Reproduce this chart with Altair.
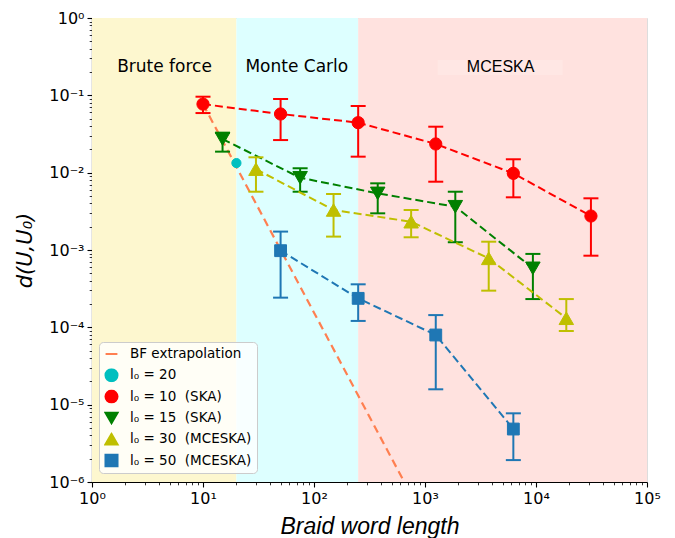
import altair as alt
import pandas as pd

# ---------------- data ----------------
series_names = [
    "BF extrapolation",
    "l\u2080 = 20",
    "l\u2080 = 10\u00a0\u00a0(SKA)",
    "l\u2080 = 15\u00a0\u00a0(SKA)",
    "l\u2080 = 30\u00a0\u00a0(MCESKA)",
    "l\u2080 = 50\u00a0\u00a0(MCESKA)",
]
series_colors = ["#ff7f50", "#00bfbf", "#ff0000", "#008000", "#bfbf00", "#1f77b4"]
series_shapes = ["stroke", "circle", "circle", "triangle-down", "triangle-up", "square"]
series_sizes = [200, 85, 150, 210, 210, 140]

bf_x = [10, 650]
bf_y = [0.077, 1.0e-6]

c20_x = [20]
c20_y = [0.0133]

r10_x = [10, 50, 250, 1250, 6250, 31250]
r10_y = [0.077, 0.0574, 0.0443, 0.0235, 0.0098, 0.00275]
r10_lo = [0.059, 0.0264, 0.0161, 0.00764, 0.0048, 0.000844]
r10_hi = [0.096, 0.0897, 0.0728, 0.0393, 0.0149, 0.00466]

g15_x = [15, 75, 375, 1875, 9375]
g15_y = [0.0272, 0.0086, 0.0054, 0.00363, 0.00058]
g15_lo = [0.0187, 0.00567, 0.00298, 0.00126, 0.000232]
g15_hi = [0.0329, 0.0114, 0.00728, 0.00567, 0.00089]

y30_x = [30, 150, 750, 3750, 18750]
y30_y = [0.0111, 0.00329, 0.00232, 0.00078, 0.000131]
y30_lo = [0.00567, 0.00149, 0.00146, 0.000298, 0.0000896]
y30_hi = [0.0158, 0.0053, 0.00329, 0.00128, 0.000232]

b50_x = [50, 250, 1250, 6250]
b50_y = [0.00098, 0.000237, 0.0000796, 0.00000484]
b50_lo = [0.000242, 0.000121, 0.0000158, 0.00000192]
b50_hi = [0.00173, 0.00036, 0.000144, 0.00000773]

region_names = ["Brute force", "Monte Carlo", "MCESKA"]
region_edges = [1, 20, 250, 100000]
region_colors = ["#fdf7cf", "#ddffff", "#ffe2df"]
region_label_x = [4.5, 70, 4800]
region_label_y = [0.232, 0.232, 0.232]
region_label_fonts = ["DejaVu Sans", "DejaVu Sans", "Liberation Sans"]
region_label_sizes = [17, 17, 16]

mceska_box_x = [1300, 17400]
mceska_box_y = [0.183, 0.286]
mceska_box_color = "#ffe7e4"

x_major = [1, 10, 100, 1000, 10000, 100000]
x_major_labels = ["10\u2070", "10\u00b9", "10\u00b2", "10\u00b3", "10\u2074", "10\u2075"]
y_major = [1e-6, 1e-5, 1e-4, 1e-3, 1e-2, 1e-1, 1]
y_major_labels = ["10\u207b\u2076", "10\u207b\u2075", "10\u207b\u2074", "10\u207b\u00b3",
                  "10\u207b\u00b2", "10\u207b\u00b9", "10\u2070"]

# ---------------- tables ----------------
series_data = [
    (c20_x, c20_y, c20_y, c20_y),
    (r10_x, r10_y, r10_lo, r10_hi),
    (g15_x, g15_y, g15_lo, g15_hi),
    (y30_x, y30_y, y30_lo, y30_hi),
    (b50_x, b50_y, b50_lo, b50_hi),
]
rows = []
for k, (xs, ys, los, his) in enumerate(series_data, start=1):
    for x, y, lo, hi in zip(xs, ys, los, his):
        rows.append(dict(series=series_names[k], L=x, d=y, lo=lo, hi=hi, sz=series_sizes[k]))
pts = pd.DataFrame(rows)
bf = pd.DataFrame(dict(series=series_names[0], L=bf_x, d=bf_y))

labels = pd.DataFrame(dict(region=region_names, x=region_label_x, y=region_label_y))
box = pd.DataFrame(dict(x0=[mceska_box_x[0]], x1=[mceska_box_x[1]],
                        y0=[mceska_box_y[0]], y1=[mceska_box_y[1]]))

# ---------------- scales / axes ----------------
xscale = alt.Scale(type="log", domain=[1, 100000], nice=False)
yscale = alt.Scale(type="log", domain=[1e-6, 1], nice=False)

x_minor = [m * v for v in x_major[:-1] for m in range(2, 10)]
y_minor = [m * v for v in y_major[:-1] for m in range(2, 10)]


def js_list(vals):
    return "[" + ",".join(repr(float(v)) for v in vals) + "]"


def js_str_list(vals):
    return "[" + ",".join("'" + v + "'" for v in vals) + "]"


def major_axis(major, major_labels, title, orient, **kw):
    idx = "indexof(" + js_list(major) + ", datum.value)"
    return alt.Axis(
        orient=orient,
        values=major,
        labelExpr=idx + " >= 0 ? " + js_str_list(major_labels) + "[" + idx + "] : ''",
        tickSize=5,
        tickWidth=1.1,
        tickColor="black",
        domainColor="black",
        domainWidth=1.2,
        grid=False,
        labelFont="DejaVu Sans",
        labelFontSize=16,
        labelColor="black",
        labelOverlap=False,
        labelFlush=False,
        labelPadding=3,
        title=title,
        titleColor="black",
        titleFontWeight="normal",
        titleFontStyle="italic",
        **kw,
    )


def minor_axis(minor, orient):
    return alt.Axis(
        orient=orient,
        values=minor,
        labels=False,
        domain=False,
        grid=False,
        tickSize=2.8,
        tickWidth=0.8,
        tickColor="black",
        title=None,
    )


x_axis = major_axis(x_major, x_major_labels, "Braid word length", "bottom",
                    titleFont="Liberation Sans", titleFontSize=23, titlePadding=9)
y_axis = major_axis(y_major, y_major_labels, "d(U,U\u2080)", "left",
                    titleFont="DejaVu Sans", titleFontSize=21, titlePadding=13)

legend = alt.Legend(
    title=None,
    orient="none",
    legendX=7,
    legendY=324,
    fillColor="rgba(255,255,255,0.8)",
    strokeColor="#cccccc",
    cornerRadius=4,
    padding=5,
    clipHeight=14,
    rowPadding=7.3,
    labelOffset=11,
    labelFont="DejaVu Sans",
    labelFontSize=13.5,
    labelColor="black",
    symbolSize=140,
    symbolStrokeWidth=2.2,
    symbolOpacity=1,
    labelLimit=300,
)

X = lambda f, axis=None: alt.X(f, scale=xscale, axis=axis)
Y = lambda f, axis=None: alt.Y(f, scale=yscale, axis=axis)

# ---------------- layers ----------------
layers = []
for i in range(3):
    one = pd.DataFrame(dict(x0=[region_edges[i]], x1=[region_edges[i + 1]],
                            y0=[1e-6], y1=[1.0]))
    layers.append(
        alt.Chart(one).mark_rect(color=region_colors[i]).encode(
            x=X("x0:Q", x_axis if i == 0 else (minor_axis(x_minor, "bottom") if i == 1 else None)),
            x2="x1:Q",
            y=Y("y0:Q", y_axis if i == 0 else (minor_axis(y_minor, "left") if i == 1 else None)),
            y2="y1:Q",
        )
    )

layers.append(
    alt.Chart(box).mark_rect(color=mceska_box_color).encode(
        x=X("x0:Q"), x2="x1:Q", y=Y("y0:Q"), y2="y1:Q")
)

for i, name in enumerate(region_names):
    layers.append(
        alt.Chart(labels[labels["region"] == name]).mark_text(
            font=region_label_fonts[i], fontSize=region_label_sizes[i], color="black",
            align="center", baseline="middle",
        ).encode(x=X("x:Q"), y=Y("y:Q"), text="region:N")
    )

layers.append(
    alt.Chart(bf).mark_line(strokeWidth=2.2, strokeDash=[8, 5], color=series_colors[0]).encode(
        x=X("L:Q"), y=Y("d:Q"))
)

for k in range(2, 6):
    sub = pts[pts["series"] == series_names[k]]
    col = series_colors[k]
    caps = pd.concat([sub[["L"]].assign(c=sub["lo"]), sub[["L"]].assign(c=sub["hi"])])
    layers.append(
        alt.Chart(sub).mark_line(strokeWidth=2, strokeDash=[8, 4], color=col).encode(
            x=X("L:Q"), y=Y("d:Q"))
    )
    layers.append(
        alt.Chart(sub).mark_rule(strokeWidth=2, color=col).encode(
            x=X("L:Q"), y=Y("lo:Q"), y2="hi:Q")
    )
    layers.append(
        alt.Chart(caps).mark_rule(strokeWidth=2, color=col, xOffset=-7.5, x2Offset=7.5).encode(
            x=X("L:Q"), x2="L:Q", y=Y("c:Q"))
    )

layers.append(
    alt.Chart(pts).mark_point(filled=True, opacity=1, strokeWidth=1).encode(
        x=X("L:Q"),
        y=Y("d:Q"),
        fill=alt.Fill("series:N", scale=alt.Scale(domain=series_names, range=series_colors),
                      legend=legend),
        stroke=alt.Stroke("series:N", scale=alt.Scale(domain=series_names, range=series_colors),
                          legend=legend),
        shape=alt.Shape("series:N", scale=alt.Scale(domain=series_names, range=series_shapes),
                        legend=legend),
        size=alt.Size("sz:Q", scale=None),
    )
)

chart = alt.layer(*layers).resolve_axis(
    x="independent", y="independent"
).properties(
    width=555,
    height=464,
    autosize="none",
    padding={"left": 92, "top": 18, "right": 28, "bottom": 56},
).configure_view(
    stroke="black", strokeWidth=1.2
).configure(background="white")

chart.save("out.html", embed_options={"renderer": "svg", "actions": False})
